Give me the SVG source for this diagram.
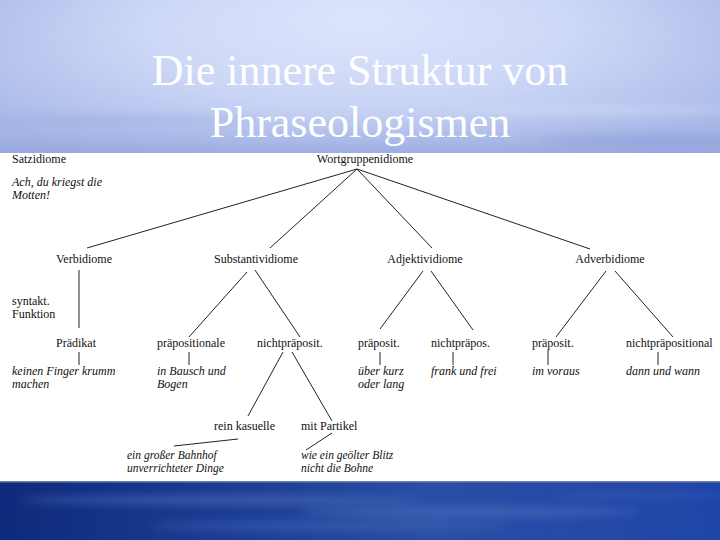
<svg xmlns="http://www.w3.org/2000/svg" width="720" height="540" viewBox="0 0 720 540">
<style>
.t{font-family:"Liberation Serif","DejaVu Serif",serif;font-size:12px;fill:#111}
.i{font-family:"Liberation Serif","DejaVu Serif",serif;font-size:12px;font-style:italic;fill:#111}
.s{font-size:11.5px}
.title{font-family:"Liberation Serif","DejaVu Serif",serif;font-size:44px;fill:#ffffff;text-anchor:middle}
.c{stroke:#222;stroke-width:1;fill:none}
</style>
<defs>
<radialGradient id="sky" cx="360" cy="20" r="420" gradientUnits="userSpaceOnUse" gradientTransform="translate(0,0) scale(1,0.45) translate(0,20)">
<stop offset="0" stop-color="#dbe4fc"/>
<stop offset="0.5" stop-color="#ccd7f7"/>
<stop offset="1" stop-color="#a8b7e7"/>
</radialGradient>
<linearGradient id="skyv" x1="0" y1="0" x2="0" y2="1">
<stop offset="0" stop-color="#ffffff" stop-opacity="0"/>
<stop offset="0.7" stop-color="#b7c5ee" stop-opacity="0.25"/>
<stop offset="1" stop-color="#8fa2da" stop-opacity="0.7"/>
</linearGradient>
<linearGradient id="sea" x1="0" y1="0" x2="1" y2="0">
<stop offset="0" stop-color="#0e2a7c"/>
<stop offset="0.35" stop-color="#1d3f96"/>
<stop offset="0.6" stop-color="#2a4ea6"/>
<stop offset="1" stop-color="#1f45a8"/>
</linearGradient>
<filter id="blur" x="-20%" y="-200%" width="140%" height="500%"><feGaussianBlur stdDeviation="4"/></filter>
</defs>
<g id="background">
<rect x="0" y="0" width="720" height="153" fill="url(#sky)"/>
<rect x="0" y="0" width="720" height="153" fill="url(#skyv)"/>
<g filter="url(#blur)" opacity="0.35">
<ellipse cx="120" cy="120" rx="140" ry="4" fill="#8ea0d6"/>
<ellipse cx="600" cy="110" rx="150" ry="4" fill="#e3e9fb"/>
<ellipse cx="660" cy="140" rx="120" ry="6" fill="#7f95d4"/>
</g>
<rect x="0" y="153" width="720" height="329" fill="#ffffff"/>
<rect x="0" y="481" width="720" height="59" fill="url(#sea)"/>
<g filter="url(#blur)" opacity="0.55">
<ellipse cx="220" cy="500" rx="200" ry="4" fill="#5a78c0"/>
<ellipse cx="470" cy="512" rx="170" ry="5" fill="#5272c0"/>
<ellipse cx="330" cy="526" rx="180" ry="4" fill="#4a6ab8"/>
<ellipse cx="640" cy="495" rx="90" ry="3" fill="#3c5fb8"/>
</g>
<rect x="0" y="481" width="720" height="1.5" fill="#6f7fa8"/>
</g>
<g id="title">
<text class="title" x="360" y="85">Die innere Struktur von</text>
<text class="title" x="360" y="137">Phraseologismen</text>
</g>
<g id="connectors">
<line class="c" x1="357" y1="169" x2="87" y2="248"/>
<line class="c" x1="357" y1="169" x2="270" y2="248"/>
<line class="c" x1="357" y1="169" x2="432" y2="248"/>
<line class="c" x1="357" y1="169" x2="590" y2="249"/>
<line class="c" x1="79" y1="270" x2="79" y2="328"/>
<line class="c" x1="79" y1="352" x2="79" y2="365"/>
<line class="c" x1="247" y1="272" x2="189" y2="337"/>
<line class="c" x1="189" y1="352" x2="189" y2="365"/>
<line class="c" x1="255" y1="270" x2="300" y2="337"/>
<line class="c" x1="283" y1="352" x2="248" y2="416"/>
<line class="c" x1="292" y1="352" x2="332" y2="421"/>
<line class="c" x1="238" y1="439" x2="174" y2="446"/>
<line class="c" x1="332" y1="433" x2="306" y2="450"/>
<line class="c" x1="423" y1="271" x2="380" y2="329"/>
<line class="c" x1="431" y1="271" x2="473" y2="330"/>
<line class="c" x1="380" y1="352" x2="380" y2="365"/>
<line class="c" x1="453" y1="352" x2="453" y2="365"/>
<line class="c" x1="606" y1="271" x2="556" y2="337"/>
<line class="c" x1="615" y1="271" x2="673" y2="337"/>
<line class="c" x1="548" y1="350" x2="548" y2="365"/>
<line class="c" x1="658" y1="352" x2="658" y2="365"/>
</g>
<g id="satzidiome"><text class="t" x="12" y="163">Satzidiome</text></g>
<g id="satzidiome-bsp"><text class="i" x="12" y="186">Ach, du kriegst die</text><text class="i" x="12" y="199">Motten!</text></g>
<g id="wortgruppenidiome"><text class="t" x="365" y="163" text-anchor="middle">Wortgruppenidiome</text></g>
<g id="verbidiome"><text class="t" x="84" y="263" text-anchor="middle">Verbidiome</text></g>
<g id="substantividiome"><text class="t" x="256" y="263" text-anchor="middle">Substantividiome</text></g>
<g id="adjektividiome"><text class="t" x="425" y="263" text-anchor="middle">Adjektividiome</text></g>
<g id="adverbidiome"><text class="t" x="610" y="263" text-anchor="middle">Adverbidiome</text></g>
<g id="syntakt"><text class="t" x="12" y="305">syntakt.</text><text class="t" x="12" y="318">Funktion</text></g>
<g id="praedikat"><text class="t" x="56" y="347">Prädikat</text></g>
<g id="praedikat-bsp"><text class="i" x="12" y="375">keinen Finger krumm</text><text class="i" x="12" y="388">machen</text></g>
<g id="praepositionale"><text class="t" x="157" y="347">präpositionale</text></g>
<g id="praepositionale-bsp"><text class="i" x="157" y="375">in Bausch und</text><text class="i" x="157" y="388">Bogen</text></g>
<g id="nichtpraeposit"><text class="t" x="257" y="347">nichtpräposit.</text></g>
<g id="rein-kasuelle"><text class="t" x="214" y="430">rein kasuelle</text></g>
<g id="rein-kasuelle-bsp"><text class="i s" x="127" y="459">ein großer Bahnhof</text><text class="i s" x="127" y="472">unverrichteter Dinge</text></g>
<g id="mit-partikel"><text class="t" x="301" y="430">mit Partikel</text></g>
<g id="mit-partikel-bsp"><text class="i s" x="301" y="459">wie ein geölter Blitz</text><text class="i s" x="301" y="472">nicht die Bohne</text></g>
<g id="adj-praeposit"><text class="t" x="358" y="347">präposit.</text></g>
<g id="adj-praeposit-bsp"><text class="i" x="358" y="375">über kurz</text><text class="i" x="358" y="388">oder lang</text></g>
<g id="adj-nichtpraepos"><text class="t" x="431" y="347">nichtpräpos.</text></g>
<g id="adj-nichtpraepos-bsp"><text class="i" x="431" y="375">frank und frei</text></g>
<g id="adv-praeposit"><text class="t" x="532" y="347">präposit.</text></g>
<g id="adv-praeposit-bsp"><text class="i" x="532" y="375">im voraus</text></g>
<g id="adv-nichtpraepositional"><text class="t" x="626" y="347">nichtpräpositional</text></g>
<g id="adv-nichtpraepositional-bsp"><text class="i" x="626" y="375">dann und wann</text></g>
</svg>
